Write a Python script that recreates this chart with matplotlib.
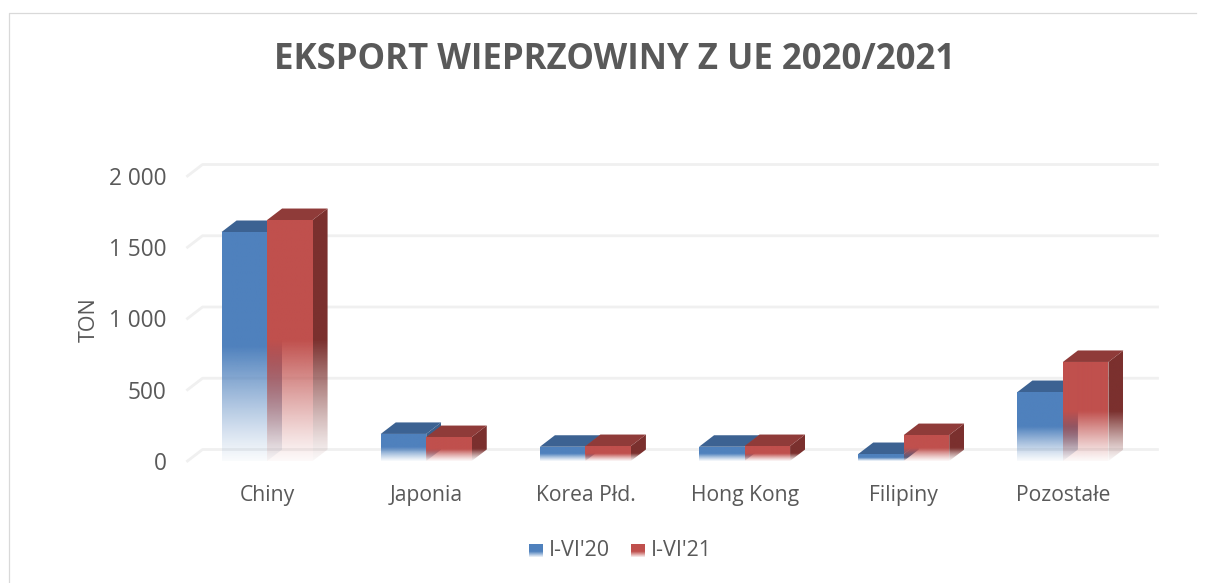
import numpy as np
import matplotlib
matplotlib.use("Agg")
import matplotlib.pyplot as plt
from matplotlib.colors import to_rgb
from matplotlib.patches import Polygon

categories = ["Chiny", "Japonia", "Korea Płd.", "Hong Kong", "Filipiny", "Pozostałe"]
series_20 = [1607, 190, 100, 100, 49, 484]
series_21 = [1691, 168, 105, 105, 182, 695]
series_names = ["I-VI'20", "I-VI'21"]
y_ticks = [0, 500, 1000, 1500, 2000]
y_tick_labels = ["0", "500", "1 000", "1 500", "2 000"]

W, H = 1211, 583
GRAY = "#595959"
plt.rcParams["font.family"] = ["Open Sans", "DejaVu Sans"]

fig = plt.figure(figsize=(W / 100, H / 100), dpi=100, facecolor="white")
# plot area in pixels: x 188..1143, y 461 (0) .. 176 (2000)
ax = fig.add_axes([187.5 / W, 1 - 461 / H, 955 / W, 285 / H])
ax.set_xlim(0, 6)
ax.set_ylim(0, 2000)
ax.set_autoscale_on(False)
for s in ax.spines.values():
    s.set_visible(False)

# depth of the fake 3d box, in data units
dx = 15 / (955 / 6)
dy = 11.5 / (285 / 2000)
bar_w = 45.5 / (955 / 6)

for v in y_ticks:
    ax.plot([0, dx, 6 + dx], [v, v + dy, v + dy], color="#f0f0f0", lw=2.0,
            clip_on=False, zorder=1, solid_joinstyle="round")


def fade_face(pts, v, color, z, floor=0.0):
    # vertical fade: solid in the upper half of the bar, nearly gone at the base
    xs = [p[0] for p in pts]
    ys = [p[1] for p in pts]
    y0, y1 = min(ys), max(ys)
    rows = np.linspace(y0, y1, 200)
    alpha = np.clip(0.06 + 0.94 * (rows - floor) / (v * 0.5), 0, 1) ** 1.2
    img = np.zeros((200, 2, 4))
    img[..., :3] = to_rgb(color)
    img[..., 3] = alpha[:, None]
    im = ax.imshow(img, extent=[min(xs), max(xs), y0, y1], origin="lower",
                   aspect="auto", interpolation="bilinear", zorder=z)
    poly = Polygon(pts, closed=True, transform=ax.transData, fill=False, lw=0)
    im.set_clip_path(poly)
    im.set_clip_on(True)


def box(x, v, front, top, side, z):
    r = x + bar_w
    fade_face([(r, 0), (r + dx, dy), (r + dx, v + dy), (r, v)], v, side, z, floor=0)
    ax.add_patch(Polygon([(x, v), (x + dx, v + dy), (r + dx, v + dy), (r, v)],
                         closed=True, fc=top, ec="none", zorder=z + 0.1))
    fade_face([(x, 0), (r, 0), (r, v), (x, v)], v, front, z + 0.2)


for i in range(len(categories)):
    c = i + 0.5
    box(c - bar_w, series_20[i], "#4f81bd", "#3c6292", "#3a5f8b", 2 + i)
    box(c, series_21[i], "#c0504d", "#8f3b39", "#7b302e", 2.5 + i)

ax.set_xticks([i + 0.5 for i in range(len(categories))], categories)
ax.set_yticks(y_ticks, y_tick_labels)
ax.tick_params(axis="both", length=0, labelcolor=GRAY)
ax.tick_params(axis="x", pad=17, labelsize=15.2)
ax.tick_params(axis="y", pad=15, labelsize=16.3)
ax.patch.set_alpha(0)

fig.text(615 / W, 1 - 60 / H, "EKSPORT WIEPRZOWINY Z UE 2020/2021", ha="center", va="center",
         fontsize=25, fontweight="bold", color=GRAY)
fig.text(89 / W, 1 - 320 / H, "TON", rotation=90, ha="center", va="center",
         fontsize=15.5, color=GRAY)

# overlay in pixel coordinates for the frame and legend
over = fig.add_axes([0, 0, 1, 1], facecolor="none")
over.set_xlim(0, W)
over.set_ylim(H, 0)
over.set_autoscale_on(False)
over.axis("off")
over.plot([9, 9, 1196], [H, 13, 13], color="#d9d9d9", lw=0.9)

for name, color, sx, tx in zip(series_names, ["#4f81bd", "#c0504d"], [529, 631], [549, 651]):
    grad = np.ones((40, 2, 4))
    grad[..., :3] = to_rgb(color)
    grad[..., 3] = np.clip(np.linspace(2.2, 0.1, 40), 0, 1)[:, None]
    over.imshow(grad, extent=[sx, sx + 14, 557, 544], origin="upper", aspect="auto", zorder=3)
    over.text(tx, 551, name, ha="left", va="center", fontsize=15.5, color=GRAY)
over.set_xlim(0, W)
over.set_ylim(H, 0)

fig.savefig("out.png", dpi=100)
